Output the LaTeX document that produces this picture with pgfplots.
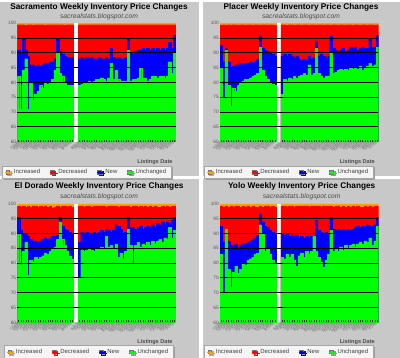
\documentclass[border=0pt]{standalone}
\usepackage{pgfplots}
\pgfplotsset{compat=1.18}
\usepackage{pgfplotstable}
\usepackage{fontspec}
\setmainfont{Liberation Sans}
\usetikzlibrary{shadows}
\definecolor{incC}{RGB}{255,160,0}
\definecolor{decC}{RGB}{255,0,0}
\definecolor{newC}{RGB}{0,0,255}
\definecolor{uncC}{RGB}{0,255,0}
\definecolor{panel}{RGB}{200,200,200}

% columns: x = week slot, T = top of Increased, R = top of Decreased, B = top of New, G = top of Unchanged (percent)
\pgfplotstableread{
x T R B G
0 100 99.5 91 82
1 100 99.5 90 71
2 100 99.5 94.5 84
3 100 99.3 91 88
4 100 99.5 89 71
5 100 99.5 86 80
6 100 99.4 86 74
7 100 99.5 85.5 76
8 100 99.5 86 77
9 100 99.5 85.5 79
10 100 99.5 86 78
11 100 99.4 86.5 80
12 100 99.5 86.5 79.5
13 100 99.5 87 80
14 100 99.5 87 81
15 100 99.5 88 84
16 100 99.5 94.5 90
17 100 99.5 90.5 83
18 100 99.5 89.5 82
19 100 99.4 89 80
20 100 99.5 88.5 79
21 100 99.5 88.5 79
22 100 99.5 88.5 79
25 100 99.5 88 79
26 100 99.5 88.5 79.5
27 100 99.5 88 80
28 100 99.5 88.5 80
29 100 99.5 88 80.5
30 100 99.5 88.5 80
31 100 99.5 88 80.5
32 100 99.5 88 81
33 100 99.5 88.5 81
34 100 99.5 88 81.5
35 100 99.5 88 81
36 100 99.5 88.5 80.5
37 100 99.5 88 81.5
38 100 99.5 91.5 86.5
39 100 99.5 88.5 81
40 100 99.5 88 84
41 100 99.5 88.5 81
42 100 99.5 88 80.5
43 100 99.5 88 80.5
44 100 99.5 88.5 80.5
45 100 99.5 95 91
46 100 99.5 90 80.5
47 100 99.5 89.5 81
48 100 99.5 90.5 81
49 100 99.5 91 81.5
50 100 99.5 91 85
51 100 99.5 91.5 81.5
52 100 99.5 91 81.5
53 100 99.5 91.5 80.5
54 100 99.5 91 81
55 100 99.5 91.5 82
56 100 99.5 91 82
57 100 99.5 91.5 81.5
58 100 99.5 91 82
59 100 99.5 91.5 82
60 100 99.5 91 81.5
61 100 99.5 91.5 82
62 100 99.5 93.5 87
63 100 99.5 91.5 83
64 100 99.5 96 90
}\sac

\pgfplotstableread{
x T R B G
0 100 99.4 92.5 85
1 100 99.5 87 75
2 100 99.4 91.5 91
3 100 99.5 87 79
4 100 99.4 85 72
5 100 99.5 85.5 78
6 100 99.5 86 77
7 100 99.4 86 79
8 100 99.5 86.5 80
9 100 99.5 86 80.5
10 100 99.4 86.5 81
11 100 99.5 86.5 81
12 100 99.5 87 81.5
13 100 99.4 86.5 82
14 100 99.5 87 82.5
15 100 99.5 88 83
16 100 99.4 95.5 92
17 100 99.5 91.5 84
18 100 99.5 91 82
19 100 99.4 90.5 81
20 100 99.5 90 80
21 100 99.5 89.5 79.5
22 100 99.4 89 79
25 100 99.5 89 76
26 100 99.5 89.5 81
27 100 99.4 89 80.5
28 100 99.5 89.5 81.5
29 100 99.5 89 81
30 100 99.4 88.5 82
31 100 99.5 89 81.5
32 100 99.5 88 82
33 100 99.4 87.5 82.5
34 100 99.5 88 83
35 100 99.5 87.5 82.5
36 100 99.4 89 86
37 100 99.5 88 82.5
38 100 99.5 88.5 83
39 100 99.4 94 91.5
40 100 99.5 89 83
41 100 99.5 89.5 82
42 100 99.4 89 81.5
43 100 99.5 88.5 82
44 100 99.5 89 82
45 100 99.4 95.5 90
46 100 99.5 91.5 83
47 100 99.5 91 83.5
48 100 99.4 90.5 84
49 100 99.5 91 84.5
50 100 99.5 91.5 84
51 100 99.4 90.5 84.5
52 100 99.5 91 84
53 100 99.5 92 85
54 100 99.4 91.5 84.5
55 100 99.5 92 85
56 100 99.5 91 84.5
57 100 99.4 91.5 85.5
58 100 99.5 92 84
59 100 99.5 91.5 85
60 100 99.4 91.5 85.5
61 100 99.5 94.5 86.5
62 100 99.5 92 85.5
63 100 99.4 92 86
64 100 99.5 96 92
}\pla

\pgfplotstableread{
x T R B G
0 100 99.2 95.5 90
1 100 99.0 91 79.5
2 100 99.3 90 84
3 100 98.9 90 87
4 100 99.2 89 76
5 100 99.0 88 81
6 100 99.3 87.5 80.5
7 100 99.1 87.5 82
8 100 98.9 87 81.5
9 100 99.2 87.5 82
10 100 99.0 88 82.5
11 100 99.3 88.5 83.5
12 100 98.8 88 83
13 100 99.1 88.5 84
14 100 98.7 89 85
15 100 99.0 89 85.5
16 100 99.2 89.5 88
17 100 98.8 95.5 94
18 100 99.1 92.5 88
19 100 99.3 91.5 86
20 100 99.0 91 84
21 100 99.2 90.5 82.5
22 100 99.0 90 81.5
25 100 99.2 87 75
26 100 99.3 90.5 84.5
27 100 99.0 90 84
28 100 99.2 90.5 84.5
29 100 99.3 89.5 85
30 100 99.0 90 84.5
31 100 99.2 90.5 84
32 100 99.3 90 85
33 100 99.1 90.5 85
34 100 99.2 91 85.5
35 100 99.3 90.5 85
36 100 99.0 91.5 89
37 100 99.2 91 85.5
38 100 99.3 90.5 86
39 100 99.1 91 85
40 100 99.2 93 86.5
41 100 99.0 92.5 82
42 100 99.3 91.5 83.5
43 100 99.1 90 81.5
44 100 99.2 90.5 84
45 100 99.3 95.5 91.5
46 100 99.0 92 86
47 100 99.2 92 80
48 100 99.3 91.5 86
49 100 99.0 92 87
50 100 99.2 92.5 85.5
51 100 98.8 91.5 86.5
52 100 99.2 92 86
53 100 99.0 92.5 87
54 100 99.3 92 86
55 100 98.9 93 87.5
56 100 99.2 92 86.5
57 100 99.0 93.5 87.5
58 100 98.8 93 88
59 100 99.2 94 87
60 100 99.0 93 88.5
61 100 99.3 94 88
62 100 99.0 93.5 92
63 100 99.2 94.5 88.5
64 100 99.3 95.5 91
}\eld

\pgfplotstableread{
x T R B G
0 100 99.2 92.5 83
1 100 99.0 87 70
2 100 99.3 88 91.5
3 100 98.9 87.5 78
4 100 99.2 86 72
5 100 99.0 86 77
6 100 99.3 86.5 79
7 100 99.1 85.5 76.5
8 100 98.9 86 78
9 100 99.2 86.5 80
10 100 99.0 86.5 79.5
11 100 99.3 87 81
12 100 98.8 87.5 81.5
13 100 99.1 88 82
14 100 98.9 88.5 83
15 100 99.0 89.5 83.5
16 100 99.2 96.5 93
17 100 98.8 94 90
18 100 99.1 92.5 84
19 100 99.3 92 85
20 100 99.0 91 83
21 100 99.2 90.5 81
22 100 99.0 90 80
25 100 99.2 90 82
26 100 99.3 89.5 81.5
27 100 99.0 90 83
28 100 99.2 89 82
29 100 99.3 89.5 83
30 100 99.0 89 81
31 100 99.2 89.5 79
32 100 99.3 88.5 82.5
33 100 99.1 89 83.5
34 100 99.2 88.5 82
35 100 99.3 89 84
36 100 99.0 88.5 83
37 100 99.2 89 84
38 100 99.3 88.5 89
39 100 99.1 94.5 84
40 100 99.2 91 82
41 100 99.0 90.5 80.5
42 100 99.3 90 78.5
43 100 99.1 90.5 81
44 100 99.2 90 83
45 100 99.3 95.5 91
46 100 99.0 91.5 84
47 100 99.2 91 85
48 100 99.3 91.5 84
49 100 99.0 91 85.5
50 100 99.2 91.5 84.5
51 100 98.8 91 86
52 100 99.2 91.5 85
53 100 99.0 91 86
54 100 99.3 91.5 86.5
55 100 98.9 92 85.5
56 100 99.2 92.5 86.5
57 100 99.0 92 87
58 100 98.8 92.5 86.5
59 100 99.2 92 87.5
60 100 99.0 93 87
61 100 99.3 92.5 88.5
62 100 99.0 92.5 86
63 100 99.2 93 87.5
64 100 99.3 95.5 92.5
}\yol

\pgfplotsset{
  barS/.style={ybar, bar width=1, bar shift=0pt, line width=0.2bp,
    legend image code/.code={\draw[##1, draw=black!55, line width=0.3bp] (0.5bp,-1.9bp) rectangle (4.3bp,1.9bp); \path (0,0) -- (6.5bp,0);}},
  inv/.style={
    scale only axis, width=158.5bp, height=118.5bp,
    xmin=-0.5, xmax=64.5, ymin=60, ymax=100,
    axis background/.style={fill=white},
    axis on top,
    axis line style={draw=none},
    ytick={65,70,...,95}, ymajorgrids,
    extra y ticks={60,100}, extra y tick style={grid=none},
    major grid style={black, line width=1bp},
    ytick style={draw=none},
    yticklabel style={font=\fontsize{4.8}{5}\selectfont, text=black!65, inner sep=1bp},
    /pgf/number format/assume math mode=true,
    xtick={0,...,22,25,26,...,64},
    xtick pos=left,
    tick align=inside, major tick length=2bp,
    xtick style={draw=black!55!green!60!black, line width=0.35bp},
    xticklabel={\pgfmathtruncatemacro\mm{mod(floor(\tick/4.33),12)+1}\pgfmathtruncatemacro\dd{mod(round(\tick)*7,28)+1}\mm/\dd/08},
    xticklabel style={rotate=38, anchor=east, font=\fontsize{3.6}{3.6}\selectfont, text=black!55, inner sep=0.6bp},
    legend columns=4,
    legend cell align=left,
    legend style={at={(0,0)}, anchor=north west, draw=gray!70, fill=gray!8,
      font=\fontsize{6}{6}\selectfont, text=black!75, inner xsep=3bp, inner ysep=1.2bp,
      drop shadow={shadow xshift=1.5bp, shadow yshift=-1.5bp, opacity=1, fill=gray!75},
      /tikz/every even column/.append style={column sep=7.5bp}},
  }
}

\newcommand{\panelplots}[1]{%
  \addplot[barS, fill=incC, draw=incC] table[x=x,y=T]{#1};
  \addplot[barS, fill=decC, draw=decC] table[x=x,y=R]{#1};
  \addplot[barS, fill=newC, draw=newC] table[x=x,y=B]{#1};
  \addplot[barS, fill=uncC, draw=uncC] table[x=x,y=G]{#1};
  \legend{Increased,Decreased,New,Unchanged}
}

\begin{document}
\begin{tikzpicture}[x=1bp,y=1bp]
\fill[white] (0,0) rectangle (400,356);
\fill[panel] (0,181.5) rectangle (199,356);
\fill[panel] (202.5,181.5) rectangle (400,356);
\fill[panel] (0,0) rectangle (199,178.5);
\fill[panel] (202.5,0) rectangle (400,178.5);

% titles
\node[font=\bfseries\fontsize{8.3}{9}\selectfont] at (99,350.5) {Sacramento Weekly Inventory Price Changes};
\node[font=\itshape\fontsize{6.75}{7}\selectfont, text=black!70] at (99,341) {sacrealstats.blogspot.com};
\node[font=\bfseries\fontsize{8.3}{9}\selectfont] at (301,350.3) {Placer Weekly Inventory Price Changes};
\node[font=\itshape\fontsize{6.75}{7}\selectfont, text=black!70] at (301,341) {sacrealstats.blogspot.com};
\node[font=\bfseries\fontsize{8.3}{9}\selectfont] at (99,171.3) {El Dorado Weekly Inventory Price Changes};
\node[font=\itshape\fontsize{6.75}{7}\selectfont, text=black!70] at (99,161.3) {sacrealstats.blogspot.com};
\node[font=\bfseries\fontsize{8.3}{9}\selectfont] at (301.7,171.3) {Yolo Weekly Inventory Price Changes};
\node[font=\itshape\fontsize{6.75}{7}\selectfont, text=black!70] at (301.7,161.3) {sacrealstats.blogspot.com};

% x-axis labels
\node[font=\bfseries\fontsize{5.6}{6}\selectfont, text=black!70, anchor=east] at (176,196) {Listings Date};
\node[font=\bfseries\fontsize{5.6}{6}\selectfont, text=black!70, anchor=east] at (378.3,196) {Listings Date};
\node[font=\bfseries\fontsize{5.6}{6}\selectfont, text=black!70, anchor=east] at (176,15.7) {Listings Date};
\node[font=\bfseries\fontsize{5.6}{6}\selectfont, text=black!70, anchor=east] at (378.3,15.7) {Listings Date};

\begin{axis}[inv, at={(17.3bp,216bp)}, anchor=south west,
  legend style={xshift=-15.3bp, yshift=-24bp}]
\panelplots{\sac}
\end{axis}
\begin{axis}[inv, at={(220bp,216bp)}, anchor=south west,
  legend style={xshift=-16bp, yshift=-24bp}]
\panelplots{\pla}
\end{axis}
\begin{axis}[inv, at={(17.3bp,35.3bp)}, anchor=south west,
  legend style={xshift=-13.3bp, yshift=-23bp}]
\panelplots{\eld}
\end{axis}
\begin{axis}[inv, at={(220bp,35.3bp)}, anchor=south west,
  legend style={xshift=-16bp, yshift=-23bp}]
\panelplots{\yol}
\end{axis}
\end{tikzpicture}
\end{document}
